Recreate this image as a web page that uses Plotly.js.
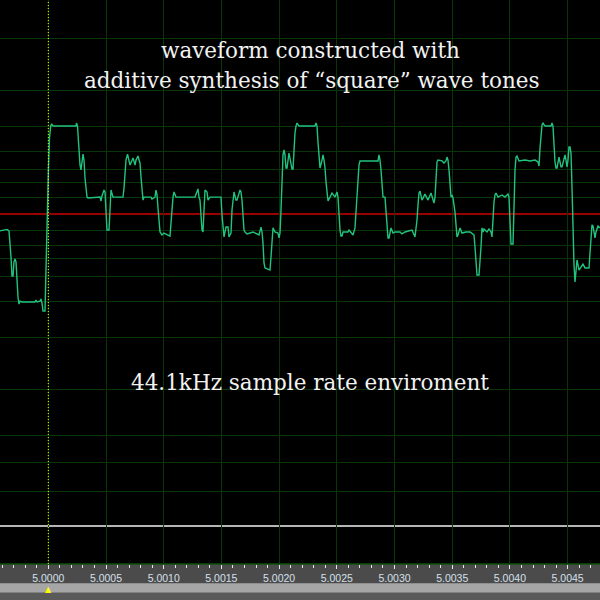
<!DOCTYPE html>
<html>
<head>
<meta charset="utf-8">
<script src="https://cdn.plot.ly/plotly-3.0.1.min.js"></script>
<style>html,body{margin:0;padding:0;background:#000;}#chart{width:600px;height:600px;}</style>
</head>
<body>
<div id="chart"></div>
<script>
// time in milliseconds after 5.0000 s
const tMs = [
-0.4185,-0.3579,-0.3405,-0.3319,-0.3232,-0.3145,-0.3058,-0.2972,-0.2885,-0.2798,-0.2712,-0.2625,-0.2539,-0.2452,-0.2279,
-0.1153,-0.1066,-0.0979,-0.0719,-0.0633,-0.0546,-0.0459,-0.0286,-0.0199,0.0017,0.0104,0.0208,0.0295,0.0407,
0.2400,0.2444,0.2530,0.2574,0.2660,0.2747,0.2834,0.2920,0.3007,0.3094,0.3180,0.3354,0.3440,
0.4480,0.4567,0.4653,0.4826,0.4913,0.5000,0.5086,0.5260,0.5346,0.5433,0.5606,
0.6473,0.6560,0.6646,0.6733,0.6863,0.6993,0.7080,0.7340,0.7513,0.7600,0.7773,0.7860,0.7946,0.8033,0.8120,0.8206,0.8293,
0.8899,0.8986,0.9246,0.9333,0.9419,0.9506,0.9593,0.9679,0.9853,1.0026,1.0546,1.0632,1.0719,1.0806,1.0892,1.1066,
1.2712,1.2972,1.3059,1.3145,1.3319,1.3405,1.3492,1.3579,1.3752,1.3838,1.4012,
1.4965,1.5052,1.5138,1.5225,1.5398,1.5572,1.5658,1.5832,1.5918,1.6005,1.6092,1.6265,1.6351,1.6611,1.6698,1.6785,1.6871,1.6958,1.7045,1.7218,
1.7738,1.8258,1.8431,1.8518,1.8604,1.8691,1.8778,1.9211,1.9297,1.9384,1.9471,1.9644,1.9904,1.9991,
2.0077,2.0164,2.0251,2.0337,2.0424,2.0511,2.0597,2.0684,2.0857,2.0944,2.1117,2.1204,2.1291,2.1377,2.1464,2.1551,2.1724,
2.3110,2.3197,2.3284,2.3370,2.3457,2.3544,2.3717,2.3804,2.3890,2.3977,2.4064,2.4150,2.4237,2.4410,2.4583,2.4843,2.5017,2.5103,
2.5190,2.5276,2.5363,2.5450,2.5536,2.5970,2.6056,2.6316,2.6403,2.6576,2.6663,2.6749,2.6836,2.6922,2.7009,
2.8569,2.8655,2.8742,2.8829,2.8915,2.9002,2.9175,2.9262,2.9348,2.9435,2.9522,2.9695,2.9868,3.0041,
3.0475,3.0648,3.0908,3.1515,3.1775,3.1948,3.2035,3.2121,3.2208,3.2381,3.2641,3.2901,3.3161,3.3421,3.3508,
3.3595,3.3681,3.3768,3.4114,3.4288,3.4461,3.4548,3.4634,3.4721,3.4808,3.4894,3.4981,3.5067,3.5241,3.5327,3.5414,3.5501,3.5674,3.5847,
3.6194,3.6541,3.6887,3.6974,3.7061,3.7147,3.7320,3.7407,3.7494,3.7580,3.7667,3.7754,3.8014,3.8187,3.8360,3.8447,
3.8534,3.8620,3.8707,3.8794,3.8967,3.9313,3.9573,3.9833,3.9920,4.0007,4.0093,4.0267,4.0353,4.0440,4.0527,4.0613,4.0786,
4.1306,4.1740,4.2173,4.2433,4.2519,4.2606,4.2693,4.2779,4.2866,4.3039,4.3559,4.3646,4.3732,
4.3819,4.3906,4.3992,4.4079,4.4252,4.4426,4.4512,4.4772,4.4859,4.4946,4.5032,4.5119,4.5205,4.5292,
4.5379,4.5465,4.5552,4.5639,4.5725,4.5812,4.5899,4.5985,4.6159,4.6332,4.6505,4.6852,4.6939,4.7025,4.7112,4.7199,4.7372,4.7459,4.7632,4.7805
];
// amplitude, percent of full scale
const amp = [
-7.9,-7.2,-7.9,-13.1,-20.1,-29.0,-29.0,-22.4,-21.0,-22.4,-32.2,-38.8,-42.1,-40.7,-41.1,
-41.1,-40.2,-41.1,-40.7,-39.7,-41.6,-45.3,-45.3,-21.0,22.0,35.5,41.1,42.1,41.1,
41.1,42.5,41.1,36.0,29.0,22.9,20.6,25.2,28.0,25.2,16.8,7.9,7.5,
7.9,6.1,8.4,11.2,10.3,-0.5,-7.5,-7.5,-0.5,11.2,7.9,
7.9,12.1,19.6,25.2,28.0,25.2,22.9,26.2,22.9,25.2,27.1,25.2,23.8,17.3,10.3,6.5,7.9,
7.9,7.0,7.9,11.2,8.9,2.8,-4.2,-8.4,-9.8,-8.9,-10.3,-4.2,3.3,7.9,10.3,7.9,
7.9,11.7,7.9,6.5,-7.5,-8.4,1.9,11.2,10.3,6.5,7.9,
7.9,-0.5,-5.1,-10.7,-6.1,-6.1,-10.7,-8.9,1.9,7.9,10.3,6.5,6.5,11.2,10.3,6.5,-0.5,-7.5,-8.4,-9.3,
-8.4,-9.8,-6.1,-8.4,-13.6,-22.9,-25.2,-26.2,-20.1,-13.6,-6.5,-8.4,-8.9,-11.2,
-8.9,1.9,15.9,27.6,29.9,27.6,21.5,21.5,28.5,25.2,21.0,21.0,30.8,37.9,41.1,42.5,41.1,
41.1,42.5,41.1,33.6,26.2,21.5,25.2,27.6,25.2,21.5,15.0,7.9,6.1,7.9,9.8,7.9,10.3,7.9,
-0.5,-7.5,-10.3,-10.3,-8.4,-8.4,-7.5,-8.9,-9.8,-6.5,0.5,7.9,16.8,22.9,24.8,
24.8,27.6,25.2,20.6,13.6,7.9,7.9,1.9,-6.5,-11.2,-11.2,-6.5,-8.9,-8.4,
-8.4,-9.3,-8.4,-7.5,-10.7,-2.8,4.2,9.8,10.7,6.5,9.3,6.5,9.8,5.1,7.9,
19.6,24.3,25.2,24.8,23.8,24.8,26.6,25.2,20.6,13.6,7.9,8.9,7.5,0.9,-6.5,-10.7,-9.8,-6.5,-8.9,
-8.4,-8.4,-9.8,-15.4,-23.8,-28.5,-28.5,-22.9,-15.4,-6.5,-8.4,-7.0,-8.4,-7.0,-8.4,-10.7,
-1.4,5.6,8.9,9.8,7.9,8.9,7.9,9.3,7.9,-6.1,-14.0,-14.0,7.5,20.6,26.6,27.1,24.8,
25.2,24.8,25.2,24.3,22.4,30.8,37.9,41.6,42.5,41.1,41.1,42.5,41.1,
29.0,24.3,21.5,21.5,26.6,22.0,22.0,27.6,25.2,22.0,25.2,31.3,31.3,28.5,
12.6,-8.9,-23.8,-31.8,-25.2,-21.5,-23.8,-26.2,-24.8,-23.4,-25.2,-25.2,-18.2,-12.1,-5.1,-5.6,-11.2,-8.4,-5.6,-6.5
];
const tickLabels = ["5.0000","5.0005","5.0010","5.0015","5.0020","5.0025","5.0030","5.0035","5.0040","5.0045"];
// horizontal grid levels (percent of full scale)
const gridLevels = [82.2,57.9,41.1,29.0,20.6,14.5,7.5,-7.5,-14.5,-20.6,-29.0,-41.1,-57.9,-82.2,-103.3,-115.9,-129.9];
const centerLevel = 0;
const secondTrackLevel = -145.8;
const cursorTime = 5.0;
const xStartMs = -0.4185, xEndMs = 4.7805;
const yTop = 100, yBottom = -163.55;

const xs = tMs.map(t => 5 + t / 1000);
const gridColor = '#093609';

const trace = {
  x: xs, y: amp, type: 'scatter', mode: 'lines',
  line: {color: '#20c47f', width: 1.4, shape: 'linear'},
  hoverinfo: 'skip'
};

const layout = {
  width: 600, height: 600,
  margin: {l: 0, r: 0, t: 0, b: 36, pad: 0},
  paper_bgcolor: '#4b4b4b',
  plot_bgcolor: '#000000',
  showlegend: false,
  xaxis: {
    range: [5 + xStartMs / 1000, 5 + xEndMs / 1000],
    tickmode: 'array',
    tickvals: tickLabels.map(Number),
    ticktext: tickLabels,
    ticks: 'outside', ticklen: 4, tickwidth: 1, tickcolor: '#e6e6e6',
    minor: {tickmode: 'linear', tick0: 5, dtick: 0.0001, ticks: 'outside', ticklen: 3, tickwidth: 1, tickcolor: '#e6e6e6', showgrid: false},
    tickfont: {family: 'Liberation Sans, Arial, sans-serif', size: 10.5, color: '#d6e0ec'},
    showgrid: true, gridcolor: gridColor, gridwidth: 1,
    zeroline: false, showline: false, fixedrange: true
  },
  yaxis: {
    range: [yBottom, yTop],
    tickmode: 'array', tickvals: gridLevels,
    showticklabels: false, ticks: '',
    showgrid: true, gridcolor: gridColor, gridwidth: 1,
    zeroline: false, showline: false, fixedrange: true
  },
  shapes: [
    {type: 'line', xref: 'paper', yref: 'y', x0: 0, x1: 1, y0: centerLevel, y1: centerLevel, layer: 'between', line: {color: '#cc0000', width: 1.5}},
    {type: 'line', xref: 'paper', yref: 'y', x0: 0, x1: 1, y0: secondTrackLevel, y1: secondTrackLevel, layer: 'between', line: {color: '#f2f2f2', width: 1.5}},
    {type: 'line', xref: 'paper', yref: 'paper', x0: 0, x1: 1, y0: 0, y1: 0, layer: 'above', line: {color: '#0e500e', width: 1.5}},
    {type: 'line', xref: 'x', yref: 'paper', x0: cursorTime, x1: cursorTime, y0: 0, y1: 1, layer: 'above', line: {color: '#ffff00', width: 1, dash: '1px,2px'}},
    {type: 'rect', xref: 'paper', yref: 'paper', x0: 0, x1: 1, y0: -0.0342, y1: -0.0509, layer: 'below', line: {width: 0}, fillcolor: '#a6a6a6'},
    {type: 'rect', xref: 'paper', yref: 'paper', x0: 0, x1: 1, y0: -0.0509, y1: -0.07, layer: 'below', line: {width: 0}, fillcolor: '#5a5a5a'}
  ],
  annotations: [
    {text: 'waveform constructed with', xref: 'paper', yref: 'paper', x: 0.517, y: 0.911, xanchor: 'center', yanchor: 'middle', showarrow: false,
     font: {family: 'DejaVu Serif, serif', size: 21.5, color: '#f2f2f2'}},
    {text: 'additive synthesis of \u201csquare\u201d wave tones', xref: 'paper', yref: 'paper', x: 0.52, y: 0.858, xanchor: 'center', yanchor: 'middle', showarrow: false,
     font: {family: 'DejaVu Serif, serif', size: 21.5, color: '#f2f2f2'}},
    {text: '44.1kHz sample rate enviroment', xref: 'paper', yref: 'paper', x: 0.517, y: 0.321, xanchor: 'center', yanchor: 'middle', showarrow: false,
     font: {family: 'DejaVu Serif, serif', size: 21.5, color: '#f2f2f2'}},
    {text: '\u25B2', xref: 'x', yref: 'paper', x: cursorTime, y: -0.046, xanchor: 'center', yanchor: 'middle', showarrow: false,
     borderpad: 0, font: {family: 'DejaVu Sans, sans-serif', size: 8, color: '#ffff00'}}
  ]
};

Plotly.newPlot('chart', [trace], layout, {displayModeBar: false, staticPlot: true});
</script>
</body>
</html>
